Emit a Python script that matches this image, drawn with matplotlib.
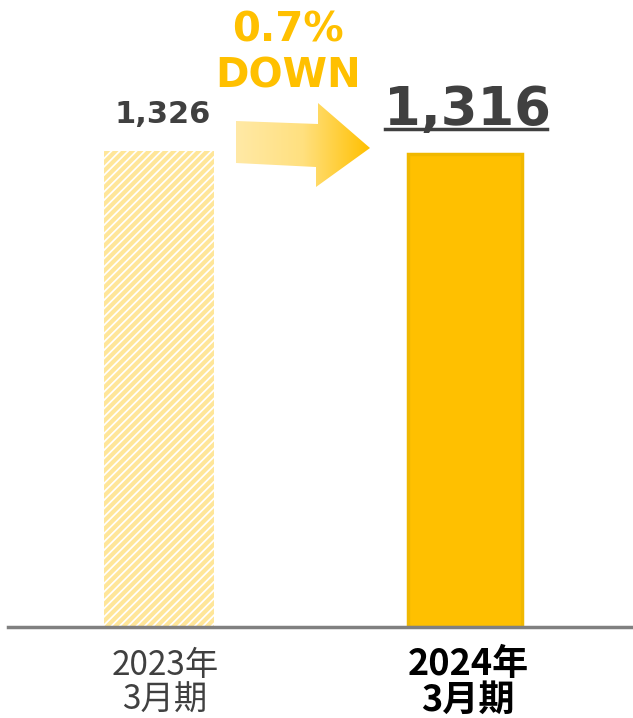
import matplotlib
matplotlib.use('Agg')
import matplotlib.pyplot as plt
import numpy as np
from matplotlib.patches import Polygon

# Data
categories = ['2023年\n3月期', '2024年\n3月期']
values = [1326, 1316]
value_labels = ['1,326', '1,316']
change_label = ['0.7%', 'DOWN']

GOLD = '#FFC000'
LIGHT = '#FFE699'
DARK = '#404040'

plt.rcParams['hatch.linewidth'] = 3.0


def fy(py):
    return 1 - py / 718


fig = plt.figure(figsize=(6.33, 7.18), dpi=100)
ax = fig.add_axes([8 / 633, 91 / 718, 625 / 633, 627 / 718])

x = np.arange(len(categories))
# previous year: hatched, current year: solid
ax.bar(x[0], values[0], width=0.36, color='white', edgecolor=LIGHT,
       hatch='////', linewidth=0)
ax.bar(x[1], values[1], width=0.375, color=GOLD, edgecolor='#F0B800',
       linewidth=2.5)

ax.set_xlim(-0.4935, 1.549)
ax.set_ylim(0, 1745)
for s in ['top', 'right', 'left']:
    ax.spines[s].set_visible(False)
ax.spines['bottom'].set_color('#808080')
ax.spines['bottom'].set_linewidth(2.5)
ax.set_yticks([])
ax.set_xticks([])

cjk = ['Noto Sans CJK JP', 'DejaVu Sans']
label_x = [165, 468]
for i, lab in enumerate(categories):
    for j, line in enumerate(lab.split('\n')):
        if i == 0:
            fig.text(label_x[i] / 633, fy(665 + 35 * j), line, ha='center', va='center',
                     fontsize=24, color=DARK, family=cjk)
        else:
            fig.text(label_x[i] / 633, fy(665 + 35 * j), line, ha='center', va='center',
                     fontsize=26, color='black', fontweight='bold', family=cjk)

# value labels
fig.text(163 / 633, fy(123), value_labels[0], ha='center', va='baseline',
         fontsize=22, fontweight='bold', color=DARK)
fig.text(467 / 633, fy(125), value_labels[1], ha='center', va='baseline',
         fontsize=38, fontweight='bold', color=DARK)
fig.add_artist(plt.Line2D([385 / 633, 547 / 633], [fy(129), fy(129)],
                          color=DARK, lw=2.5))

# change label
fig.text(288 / 633, fy(42), change_label[0], ha='center', va='baseline',
         fontsize=29, fontweight='bold', color=GOLD)
fig.text(288 / 633, fy(88), change_label[1], ha='center', va='baseline',
         fontsize=29, fontweight='bold', color=GOLD)

# gradient arrow
pts = [(236, 121), (318, 124), (318, 103), (370, 148), (316, 187), (316, 167), (236, 163)]
verts = [(px / 633, fy(py)) for px, py in pts]
arrow = Polygon(verts, closed=True, transform=fig.transFigure, facecolor='none',
                edgecolor='none')
fig.add_artist(arrow)
grad = np.linspace(0, 1, 256).reshape(1, -1)
cmap = matplotlib.colors.LinearSegmentedColormap.from_list('g', ['#FFE9A6', '#FFE07F', GOLD])
img_ax = fig.add_axes([236 / 633, fy(187), 134 / 633, 84 / 718])
img_ax.axis('off')
img = img_ax.imshow(grad, aspect='auto', cmap=cmap, extent=[0, 1, 0, 1])
img.set_clip_path(arrow)

fig.savefig('out.png', dpi=100)
